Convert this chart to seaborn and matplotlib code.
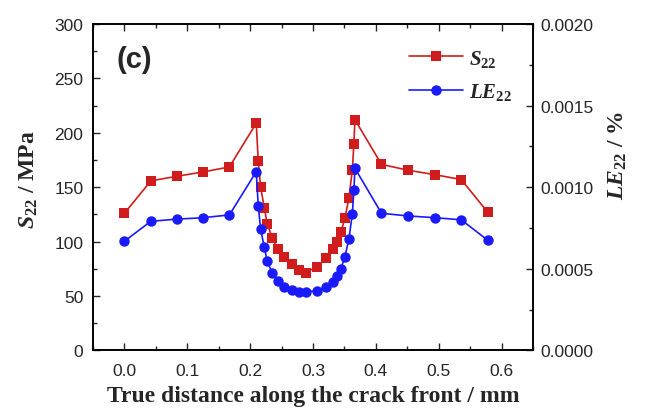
import numpy as np
import pandas as pd
import seaborn as sns
import matplotlib
matplotlib.use("Agg")
import matplotlib.pyplot as plt
from matplotlib.ticker import MultipleLocator

# distance along the crack front (mm), shared by both series
distance = [0.0, 0.042, 0.083, 0.125, 0.167,
            0.2097, 0.2129, 0.2166, 0.2225, 0.2272, 0.2352, 0.2441, 0.2543,
            0.2659, 0.2771, 0.2882, 0.3068, 0.3212, 0.3317, 0.3376, 0.3444,
            0.3508, 0.3572, 0.3626, 0.3651, 0.3667,
            0.409, 0.451, 0.494, 0.536, 0.578]

# S22 stress (MPa)
s22 = [126, 155.8, 160, 164, 168.6,
       208.8, 174.2, 150.5, 131, 116.5, 103.1, 93.3, 85.9,
       79.2, 74, 71.5, 77, 84.7, 93, 100, 108.6,
       121.5, 140.1, 165.9, 189.8, 212.1,
       171, 165.6, 161.5, 157, 127]

# LE22 strain (%)
le22 = [0.000669, 0.000791, 0.000804, 0.000813, 0.000830,
        0.001095, 0.000887, 0.000746, 0.000632, 0.000547, 0.000473, 0.000424, 0.000391,
        0.000369, 0.000360, 0.000360, 0.000365, 0.000387, 0.000420, 0.000457, 0.000501,
        0.000573, 0.000683, 0.000838, 0.000981, 0.001116,
        0.000840, 0.000824, 0.000813, 0.000800, 0.000675]

sns.set_style("ticks")
plt.rcParams["font.family"] = ["Liberation Sans", "DejaVu Sans"]
plt.rcParams["mathtext.fontset"] = "custom"
plt.rcParams["mathtext.rm"] = "Liberation Serif:bold"
plt.rcParams["mathtext.it"] = "Liberation Serif:italic:bold"
plt.rcParams["mathtext.bf"] = "Liberation Serif:bold"

df = pd.DataFrame({"distance": distance, "s22": s22, "le22": le22})

red = "#d01c1c"
blue = "#1a1aff"

fig = plt.figure(figsize=(6.46, 4.10), dpi=100)
ax = fig.add_axes([0.144, 0.143, 0.681, 0.796])
ax2 = ax.twinx()

sns.lineplot(data=df, x="distance", y="s22", ax=ax, color=red, marker="s",
             markersize=6.5, markeredgewidth=0, linewidth=1.2, sort=False,
             label="$S_{22}$", legend=False)
sns.lineplot(data=df, x="distance", y="le22", ax=ax2, color=blue, marker="o",
             markersize=7.5, markeredgewidth=0, linewidth=1.2, sort=False,
             label="$LE_{22}$", legend=False)

ax.set_xlim(-0.05, 0.65)
ax.set_ylim(0, 300)
ax2.set_ylim(0, 0.002)

ax.xaxis.set_major_locator(MultipleLocator(0.1))
ax.xaxis.set_minor_locator(MultipleLocator(0.05))
ax.yaxis.set_major_locator(MultipleLocator(50))
ax.yaxis.set_minor_locator(MultipleLocator(25))
ax2.yaxis.set_major_locator(MultipleLocator(0.0005))
ax2.yaxis.set_minor_locator(MultipleLocator(0.00025))
ax2.yaxis.set_major_formatter(plt.FormatStrFormatter("%.4f"))

ax.tick_params(axis="x", which="both", direction="in", top=True, labelsize=12.5, pad=9)
ax.tick_params(axis="y", which="both", direction="in", labelsize=12.5, pad=7)
ax.tick_params(which="major", length=5, width=1)
ax.tick_params(which="minor", length=3, width=1)
ax2.tick_params(axis="y", which="both", direction="in", labelsize=12.5, pad=5)
ax2.tick_params(which="major", length=5, width=1)
ax2.tick_params(which="minor", length=3, width=1)

for a in (ax, ax2):
    for sp in a.spines.values():
        sp.set_linewidth(1.2)
        sp.set_color("black")

serif = {"family": "Liberation Serif", "weight": "bold", "size": 17}
ax.set_xlabel("True distance along the crack front / mm", fontdict=serif, labelpad=5)
ax.set_ylabel("$S_{22}$ / MPa", fontdict=serif, labelpad=10)
ax2.set_ylabel("$LE_{22}$ / %", fontdict=serif, labelpad=10)
ax.yaxis.label.set_y(0.525)
ax2.yaxis.label.set_y(0.6)

ax.text(0.093, 0.893, "(c)", transform=ax.transAxes, fontsize=21,
        fontweight="bold", va="center", ha="center")

handles = ax.get_lines()[:1] + ax2.get_lines()[:1]
ax.legend(handles, ["$S_{22}$", "$LE_{22}$"], loc="upper right",
          bbox_to_anchor=(0.995, 0.985), frameon=False, fontsize=15,
          handlelength=2.6, handletextpad=0.3, labelspacing=0.6)

fig.savefig("out.png", dpi=100)
